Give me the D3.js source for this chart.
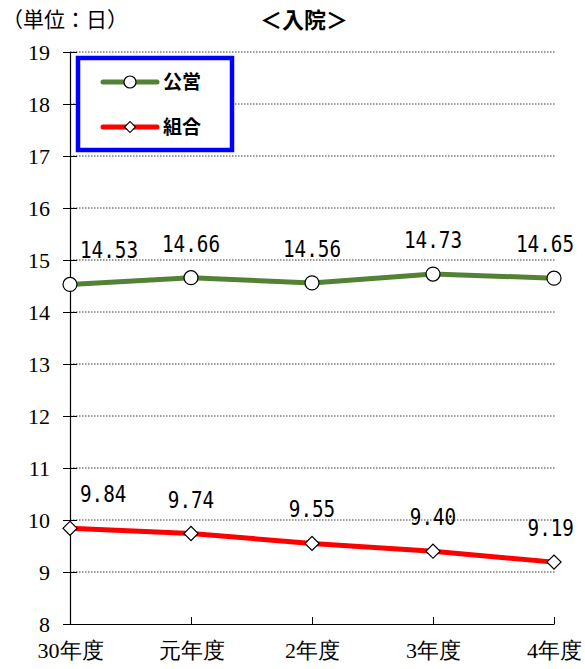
<!DOCTYPE html>
<html><head><meta charset="utf-8">
<script src="https://cdn.jsdelivr.net/npm/d3@7"></script>
<style>body{margin:0;background:#fff}
text.serif{font-family:"Liberation Serif","DejaVu Serif",Times,serif;}
</style>
</head><body>
<svg id="c" width="585" height="669"></svg>
<script>
const categories = ["30年度","元年度","2年度","3年度","4年度"];
const seriesNames = ["公営","組合"];
const koei = [14.53,14.66,14.56,14.73,14.65];
const kumiai = [9.84,9.74,9.55,9.40,9.19];
const yTicks = [8,9,10,11,12,13,14,15,16,17,18,19];

const svg = d3.select("#c");
const L = 70, R = 554, T = 52, B = 624;
const x = d3.scalePoint().domain(categories).range([L, R]);
const y = d3.scaleLinear().domain([8, 19]).range([B, T]);
const jp = "'Noto Sans CJK JP', sans-serif";

// gridlines
svg.append("g").selectAll("line").data(yTicks.filter(d => d > 8)).join("line")
  .attr("x1", L).attr("x2", R + 1).attr("y1", d => y(d)).attr("y2", d => y(d))
  .attr("stroke", "#000").attr("stroke-width", 0.8).attr("stroke-dasharray", "1.5,1.5");

// y axis
const ya = svg.append("g").attr("transform", `translate(${L},0)`)
  .call(d3.axisLeft(y).tickValues(yTicks).tickSize(0).tickPadding(20).tickFormat(d3.format("d")));
ya.attr("font-family", null).attr("font-size", null);
ya.select(".domain").attr("stroke", "#000").attr("stroke-width", 1.2);
ya.selectAll(".tick line").attr("x1", -7).attr("x2", 7).attr("stroke", "#000");
ya.selectAll("text").attr("class", "serif").style("font-size", "22px").attr("fill", "#000");

// x axis
const xa = svg.append("g").attr("transform", `translate(0,${B})`)
  .call(d3.axisBottom(x).tickSizeInner(-7).tickSizeOuter(0).tickPadding(18));
xa.attr("font-family", null).attr("font-size", null);
xa.select(".domain").attr("stroke", "#000").attr("stroke-width", 1.2);
xa.selectAll("line").attr("stroke", "#000");
xa.selectAll("text").attr("class", "serif").style("font-size", "22px").attr("fill", "#000");

const line = d3.line().x((d, i) => x(categories[i])).y(d => y(d));

// lines
svg.append("path").datum(koei).attr("d", line).attr("fill", "none")
  .attr("stroke", "#548235").attr("stroke-width", 5);
svg.append("path").datum(kumiai).attr("d", line).attr("fill", "none")
  .attr("stroke", "#ff0000").attr("stroke-width", 5);

// markers
svg.append("g").selectAll("circle").data(koei).join("circle")
  .attr("cx", (d, i) => x(categories[i])).attr("cy", d => y(d)).attr("r", 7)
  .attr("fill", "#fff").attr("stroke", "#000").attr("stroke-width", 1.2);
svg.append("g").selectAll("path").data(kumiai).join("path")
  .attr("d", d3.symbol().type(d3.symbolSquare).size(100))
  .attr("transform", (d, i) => `translate(${x(categories[i])},${y(d)}) rotate(45)`)
  .attr("fill", "#fff").attr("stroke", "#000").attr("stroke-width", 1.2);

// data labels
function labels(data) {
  const n = data.length;
  svg.append("g").selectAll("text").data(data).join("text")
    .attr("transform", (d, i) => {
      const cx = x(categories[i]);
      const px = i === 0 ? cx + 10 : (i === n - 1 ? cx + 20 : cx);
      return `translate(${px},${y(d) - 26}) scale(0.84,1)`;
    })
    .attr("text-anchor", (d, i) => i === 0 ? "start" : (i === n - 1 ? "end" : "middle"))
    .style("font-family", "'DejaVu Sans Mono', monospace")
    .style("font-size", "23px")
    .attr("fill", "#000")
    .text(d => d.toFixed(2));
}
labels(koei);
labels(kumiai);

// legend
svg.append("rect").attr("x", 78).attr("y", 58).attr("width", 154).attr("height", 92)
  .attr("fill", "#fff").attr("stroke", "#0000ff").attr("stroke-width", 4.5);
const leg = [{c: "#548235", m: "circle", n: seriesNames[0], yy: 82}, {c: "#ff0000", m: "diamond", n: seriesNames[1], yy: 127}];
leg.forEach(o => {
  svg.append("line").attr("x1", 103).attr("x2", 157).attr("y1", o.yy).attr("y2", o.yy)
    .attr("stroke", o.c).attr("stroke-width", 5).attr("stroke-linecap", "round");
  if (o.m === "circle") {
    svg.append("circle").attr("cx", 130).attr("cy", o.yy).attr("r", 6)
      .attr("fill", "#fff").attr("stroke", "#000").attr("stroke-width", 1.2);
  } else {
    svg.append("path").attr("d", d3.symbol().type(d3.symbolSquare).size(60))
      .attr("transform", `translate(130,${o.yy}) rotate(45)`)
      .attr("fill", "#fff").attr("stroke", "#000").attr("stroke-width", 1.2);
  }
  svg.append("text").attr("x", 163).attr("y", o.yy + 7).style("font-family", jp)
    .style("font-size", "19px").style("font-weight", "700").attr("fill", "#000").text(o.n);
});

// titles
svg.append("text").attr("x", 2).attr("y", 27).style("font-family", jp)
  .style("font-size", "21px").attr("fill", "#000").text("（単位：日）");
svg.append("text").attr("x", 304).attr("y", 28).attr("text-anchor", "middle").style("font-family", jp)
  .style("font-size", "22px").style("font-weight", "700").attr("fill", "#000").text("＜入院＞");
</script>
</body></html>
